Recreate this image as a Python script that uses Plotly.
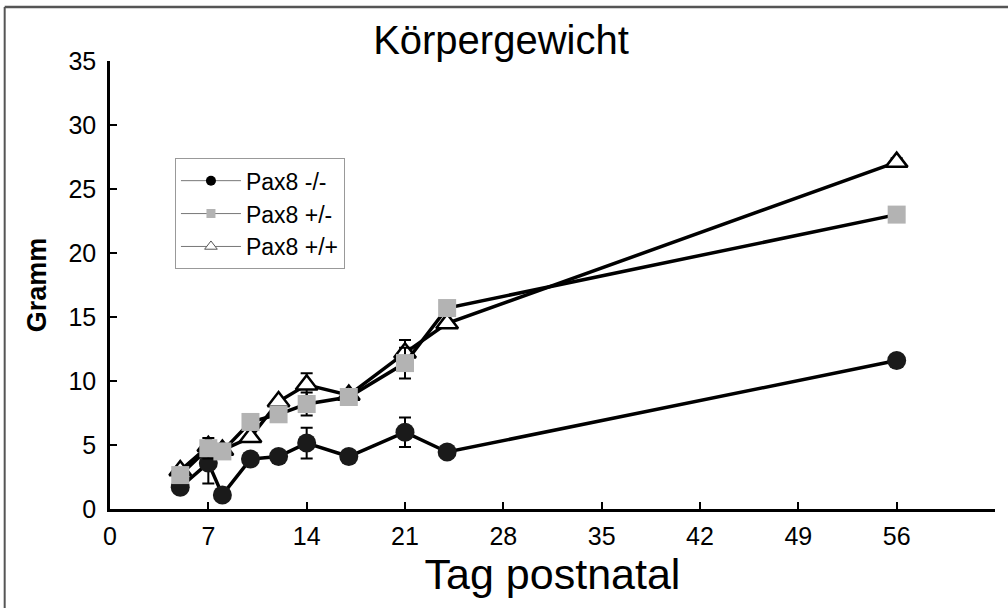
import plotly.graph_objects as go

days_ko = [5, 7, 8, 10, 12, 14, 17, 21, 24, 56]
ko_vals = [1.7, 3.6, 1.1, 3.9, 4.1, 5.15, 4.1, 6.0, 4.45, 11.6]
ko_err = [0.2, 1.6, 0.2, 0.2, 0.2, 1.2, 0.2, 1.15, 0.2, 0.3]

days_het = [5, 7, 8, 10, 12, 14, 17, 21, 24, 56]
het_vals = [2.65, 4.75, 4.5, 6.8, 7.4, 8.2, 8.75, 11.4, 15.7, 23.0]
het_err = [0.2, 0.8, 0.2, 0.2, 0.2, 0.9, 0.2, 1.2, 0.2, 0.3]

days_wt = [5, 7, 8, 10, 12, 14, 17, 21, 24, 56]
wt_vals = [3.0, 4.9, 4.6, 5.6, 8.4, 9.7, 8.9, 12.2, 14.5, 27.1]
wt_err = [0.2, 0.4, 0.2, 0.2, 0.2, 0.9, 0.2, 1.0, 0.2, 0.3]

x_ticks = [0, 7, 14, 21, 28, 35, 42, 49, 56]
y_ticks = [0, 5, 10, 15, 20, 25, 30, 35]

names = ["Pax8 -/-", "Pax8 +/-", "Pax8 +/+"]

fig = go.Figure()

err_style = dict(type="data", thickness=2, width=6, color="black")

# data traces (order: triangles, circles, squares on top)
fig.add_trace(go.Scatter(
    x=days_wt, y=wt_vals, mode="lines+markers", showlegend=False,
    error_y=dict(array=wt_err, **err_style),
    line=dict(color="black", width=3.5),
    marker=dict(symbol="triangle-up", size=19, color="white",
                line=dict(color="black", width=2.5))))
fig.add_trace(go.Scatter(
    x=days_ko, y=ko_vals, mode="lines+markers", showlegend=False,
    error_y=dict(array=ko_err, **err_style),
    line=dict(color="black", width=3.5),
    marker=dict(symbol="circle", size=19, color="#1a1a1a",
                line=dict(color="#1a1a1a", width=0))))
fig.add_trace(go.Scatter(
    x=days_het, y=het_vals, mode="lines+markers", showlegend=False,
    error_y=dict(array=het_err, **err_style),
    line=dict(color="black", width=3.5),
    marker=dict(symbol="square", size=18, color="#b3b3b3",
                line=dict(color="#b3b3b3", width=0))))

# legend entries
fig.add_trace(go.Scatter(x=[None], y=[None], mode="lines+markers", name=names[0],
                         line=dict(color="#777777", width=1),
                         marker=dict(symbol="circle", size=10, color="black")))
fig.add_trace(go.Scatter(x=[None], y=[None], mode="lines+markers", name=names[1],
                         line=dict(color="#777777", width=1),
                         marker=dict(symbol="square", size=9, color="#b3b3b3")))
fig.add_trace(go.Scatter(x=[None], y=[None], mode="lines+markers", name=names[2],
                         line=dict(color="#777777", width=1),
                         marker=dict(symbol="triangle-up", size=11, color="white",
                                     line=dict(color="#555555", width=1))))

tickfont = dict(family="Liberation Sans, Arial", size=25, color="black")

fig.update_layout(
    width=1008, height=608,
    margin=dict(l=110, r=13, t=61, b=99),
    paper_bgcolor="white", plot_bgcolor="white",
    title=dict(text="Körpergewicht", x=0.497, xanchor="center", y=0.934, yanchor="middle",
               font=dict(family="Liberation Sans, Arial", size=40, color="black")),
    xaxis=dict(range=[0, 63], tickvals=x_ticks, ticktext=[str(v) for v in x_ticks],
               showgrid=False, zeroline=False, showline=True, linecolor="black", linewidth=2.5,
               ticks="inside", ticklen=7, tickwidth=2, tickcolor="black", tickfont=tickfont,
               ticklabelstandoff=3,
               title=dict(text="Tag postnatal", standoff=4,
                          font=dict(family="Liberation Sans, Arial", size=43, color="black"))),
    yaxis=dict(range=[0, 35], tickvals=y_ticks, ticktext=[str(v) for v in y_ticks],
               showgrid=False, zeroline=False, showline=True, linecolor="black", linewidth=2.5,
               ticks="inside", ticklen=7, tickwidth=2, tickcolor="black", tickfont=tickfont,
               ticklabelstandoff=6,
               title=dict(text="<b>Gramm</b>", standoff=14,
                          font=dict(family="Liberation Sans, Arial", size=27, color="black"))),
    legend=dict(x=0.0734, y=0.783, xanchor="left", yanchor="top",
                bgcolor="white", bordercolor="#999999", borderwidth=1,
                font=dict(family="Liberation Sans, Arial", size=23, color="black"),
                tracegroupgap=0, itemwidth=60),
    shapes=[
        dict(type="line", xref="paper", yref="paper", x0=-0.119, x1=1.02, y0=1.1205, y1=1.1205,
             line=dict(color="#555555", width=2.5)),
        dict(type="line", xref="paper", yref="paper", x0=-0.119, x1=-0.119, y0=1.1205, y1=-0.23,
             line=dict(color="#555555", width=2)),
    ],
)

fig.write_html("out.html", config={"displayModeBar": False},
               post_script="document.body.style.margin='0';")
